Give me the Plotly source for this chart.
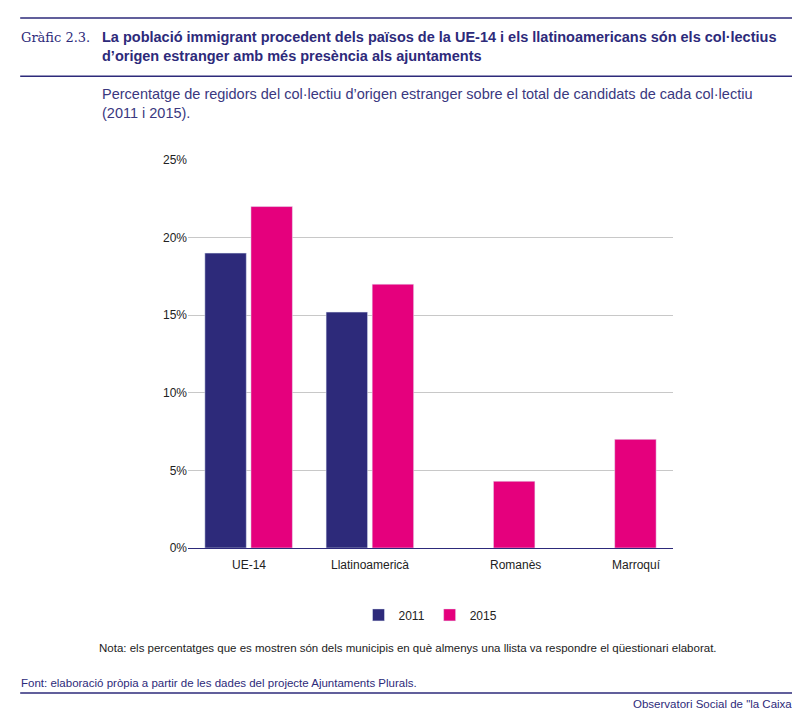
import plotly.graph_objects as go

categories = ["UE-14", "Llatinoamericà", "Romanès", "Marroquí"]
values_2011 = [19.0, 15.2, None, None]
values_2015 = [22.0, 17.0, 4.3, 7.0]

NAVY = "#2d2a7a"
MAGENTA = "#e5007d"
FONT = "Liberation Sans"

fig = go.Figure()
fig.add_bar(x=categories, y=values_2011, name="2011", marker_color=NAVY)
fig.add_bar(x=categories, y=values_2015, name="2015", marker_color=MAGENTA)

# category labels (the single-bar groups are labelled under their bar)
shifts = [0, 0, 24, 24]
for cat, dx in zip(categories, shifts):
    fig.add_annotation(x=cat, y=0, yref="y", yanchor="top", yshift=-8, xshift=dx,
                       text=cat, showarrow=False, font=dict(size=12, color="#222"))

fig.update_layout(
    width=800, height=709,
    margin=dict(l=180, r=135, t=152, b=169),
    plot_bgcolor="white", paper_bgcolor="white",
    font=dict(family=FONT, size=12, color="#222"),
    barmode="group", bargap=0.24, bargroupgap=0.1,
    showlegend=True,
    legend=dict(orientation="h", x=0.5, xanchor="center", y=-0.135, yanchor="top",
                font=dict(size=12, color="#222")),
    xaxis=dict(showticklabels=False, showline=True, linecolor=NAVY, linewidth=1, ticks=""),
    yaxis=dict(range=[0, 25], dtick=5, ticksuffix="%", gridcolor="#c8c8c8",
               zeroline=False, showline=False, ticks="", tickfont=dict(size=12, color="#222")),
    shapes=[
        dict(type="line", xref="paper", yref="paper", x0=-0.346, x1=1.26, y0=1.366, y1=1.366,
             line=dict(color=NAVY, width=1.5)),
        dict(type="line", xref="paper", yref="paper", x0=-0.346, x1=1.26, y0=1.216, y1=1.216,
             line=dict(color=NAVY, width=1.5)),
        dict(type="line", xref="paper", yref="paper", x0=-0.346, x1=1.26, y0=-0.374, y1=-0.374,
             line=dict(color=NAVY, width=1.5)),
    ],
)

fig.add_annotation(xref="paper", yref="paper", x=-0.348, y=1.34, xanchor="left", yanchor="top",
                   text="Gràfic 2.3.", showarrow=False, align="left",
                   font=dict(family="DejaVu Serif", size=13, color=NAVY))
fig.add_annotation(xref="paper", yref="paper", x=-0.181, y=1.342, xanchor="left", yanchor="top",
                   text="<b>La població immigrant procedent dels països de la UE-14 i els llatinoamericans són els col·lectius<br>d’origen estranger amb més presència als ajuntaments</b>",
                   showarrow=False, align="left", font=dict(size=14.5, color=NAVY))
fig.add_annotation(xref="paper", yref="paper", x=-0.181, y=1.196, xanchor="left", yanchor="top",
                   text="Percentatge de regidors del col·lectiu d’origen estranger sobre el total de candidats de cada col·lectiu<br>(2011 i 2015).",
                   showarrow=False, align="left", font=dict(size=14.5, color="#3a3880"))
fig.add_annotation(xref="paper", yref="paper", x=0.454, y=-0.237, xanchor="center", yanchor="top",
                   text="Nota: els percentatges que es mostren són dels municipis en què almenys una llista va respondre el qüestionari elaborat.",
                   showarrow=False, font=dict(size=11.5, color="#222"))
fig.add_annotation(xref="paper", yref="paper", x=-0.348, y=-0.327, xanchor="left", yanchor="top",
                   text="Font: elaboració pròpia a partir de les dades del projecte Ajuntaments Plurals.",
                   showarrow=False, font=dict(size=11.5, color=NAVY))
fig.add_annotation(xref="paper", yref="paper", x=1.258, y=-0.382, xanchor="right", yanchor="top",
                   text="Observatori Social de \"la Caixa\"",
                   showarrow=False, font=dict(size=11.5, color=NAVY))

fig.write_html("out.html")
